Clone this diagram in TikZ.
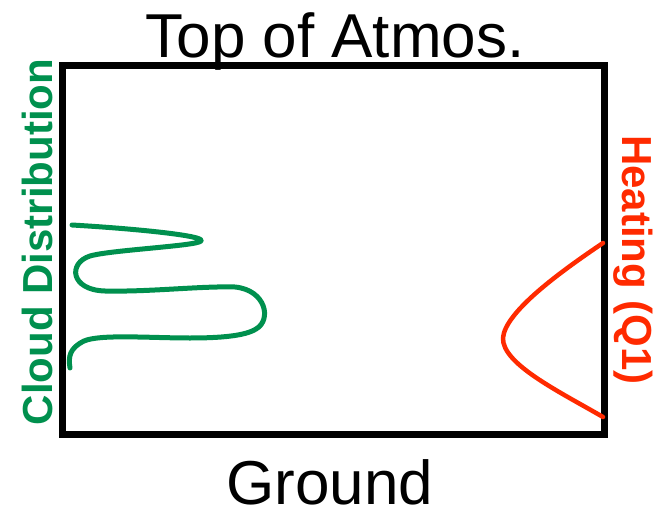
\documentclass[tikz,border=0pt]{standalone}
\usepackage{fontspec}
\setmainfont{Liberation Sans}
\definecolor{frame}{HTML}{000000}
\definecolor{cloud}{HTML}{00904E}
\definecolor{heat}{HTML}{FF2A00}

\begin{document}
\begin{tikzpicture}[
  x=1pt, y=-1pt,
  column/.style={
    draw=frame,
    line width=7pt
  },
  bigtext/.style={
    font=\fontsize{62}{70}\selectfont,
    text=frame,
    inner sep=0pt
  },
  sidetext/.style={
    font=\fontsize{42}{48}\selectfont\bfseries,
    inner sep=0pt
  },
  profile/.style={
    line width=5pt,
    line cap=round,
    line join=round
  }
]
\useasboundingbox (0,0) rectangle (659,511);

% Atmosphere column
\draw[column] (62,66) rectangle (604,434);

% Labels
\node[bigtext, anchor=base] (top) at (335,58) {Top of Atmos.};
\node[bigtext, anchor=base, text depth=0pt] (ground) at (330,504) {Ground};
\node[sidetext, text=cloud, rotate=90] (cloudlbl) at (37,242) {Cloud Distribution};
\node[sidetext, text=heat, rotate=-90] (heatlbl) at (633,260) {Heating (Q1)};

% Cloud profile
\draw[profile, draw=cloud]
  (72,225) .. controls (140,229) and (206,236) .. (201,241)
  .. controls (197,246) and (110,250) .. (90,256)
  .. controls (68,263) and (70,290) .. (105,291)
  .. controls (150,292) and (200,286) .. (235,287)
  .. controls (266,290) and (272,320) .. (256,329)
  .. controls (245,336) and (220,338) .. (190,338)
  .. controls (150,338) and (100,334) .. (84,341)
  .. controls (70,348) and (68,356) .. (70,368);

% Heating profile
\draw[profile, draw=heat, line width=4.5pt]
  (603,243) .. controls (560,272) and (505,312) .. (503,338)
  .. controls (502,364) and (560,392) .. (603,417);

\end{tikzpicture}
\end{document}
